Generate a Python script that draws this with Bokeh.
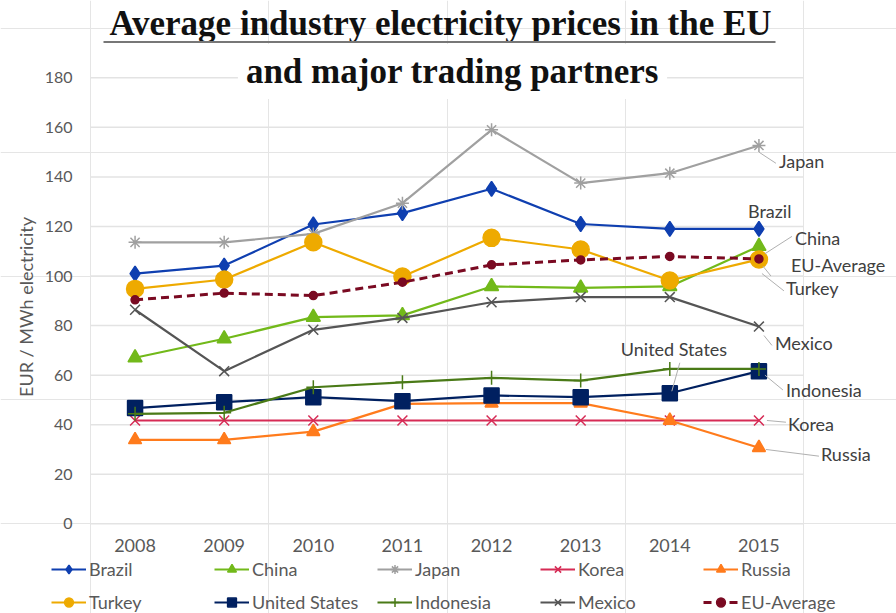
import math
from bokeh.plotting import figure
from bokeh.models import (Range1d, FixedTicker, Legend, LegendItem, Label,
                          LinearAxis, BoxAnnotation)
from bokeh.embed import file_html
from bokeh.resources import INLINE

years = ["2008", "2009", "2010", "2011", "2012", "2013", "2014", "2015"]

brazil = [101.0, 104.2, 120.8, 125.4, 135.2, 121.0, 119.0, 119.0]
china = [67.0, 74.7, 83.4, 84.1, 95.8, 95.2, 95.8, 112.0]
japan = [113.6, 113.6, 117.0, 129.4, 159.0, 137.5, 141.5, 152.7]
korea = [41.7, 41.7, 41.7, 41.7, 41.7, 41.7, 41.7, 41.7]
russia = [33.9, 33.9, 37.2, 48.4, 48.7, 48.7, 41.7, 30.7]
turkey = [94.8, 98.6, 113.6, 99.8, 115.4, 110.7, 98.2, 106.7]
united_states = [46.7, 49.1, 51.1, 49.5, 51.8, 51.1, 52.7, 61.6]
indonesia = [44.4, 44.8, 55.1, 57.1, 58.9, 57.8, 62.5, 62.5]
mexico = [86.4, 61.6, 78.3, 83.1, 89.4, 91.5, 91.5, 79.6]
eu_average = [90.4, 93.1, 92.1, 97.5, 104.5, 106.5, 107.9, 106.9]

y_ticks = [0, 20, 40, 60, 80, 100, 120, 140, 160, 180]

title_line1 = "Average industry electricity prices in the EU"
title_line2 = "and major trading partners"
y_label = "EUR / MWh electricity"

FONT = "Lato"
GRAY_TXT = "#595959"

# geometry of the canvas (px)
W, H = 896, 613
PX_X = 713.0 / 8          # px per category
PX_Y = 446.0 / 180        # px per EUR/MWh
X0_PX, Y0_PX = 90.0, 523.3  # where category 0 / value 0 sit

x_range = Range1d(-X0_PX / PX_X, (W - X0_PX) / PX_X)
y_range = Range1d(-(H - Y0_PX) / PX_Y, Y0_PX / PX_Y)

p = figure(width=W, height=H, x_range=x_range, y_range=y_range,
           output_backend="svg", toolbar_location=None, tools="",
           x_axis_location=None, y_axis_location=None,
           min_border=0, min_border_left=0, min_border_right=0,
           min_border_top=0, min_border_bottom=0)
p.outline_line_color = None
p.background_fill_color = "white"
p.border_fill_color = "white"

xpos = [i + 0.5 for i in range(len(years))]

# horizontal gridlines across the category area only
p.segment(x0=[0] * len(y_ticks), x1=[len(years)] * len(y_ticks),
          y0=y_ticks, y1=y_ticks, line_color="#e3e3e3", line_width=1.5)

xaxis = LinearAxis(fixed_location=0, ticker=FixedTicker(ticks=xpos),
                   major_label_overrides={x: y for x, y in zip(xpos, years)})
yaxis = LinearAxis(fixed_location=0, ticker=FixedTicker(ticks=y_ticks),
                   axis_label=y_label)
for ax in (xaxis, yaxis):
    ax.axis_line_color = None
    ax.major_tick_line_color = None
    ax.minor_tick_line_color = None
    ax.major_tick_in = 0
    ax.major_tick_out = 0
    ax.minor_tick_in = 0
    ax.minor_tick_out = 0
    ax.major_label_text_font = FONT
    ax.major_label_text_color = GRAY_TXT
xaxis.major_label_text_font_size = "18px"
yaxis.major_label_text_font_size = "16px"
yaxis.major_label_standoff = 18
xaxis.major_label_standoff = 15
yaxis.axis_label_text_font = FONT
yaxis.axis_label_text_font_style = "normal"
yaxis.axis_label_text_font_size = "18px"
yaxis.axis_label_text_color = GRAY_TXT
yaxis.axis_label_standoff = 5
p.add_layout(xaxis, "below")
p.add_layout(yaxis, "left")

series = [
    ("Brazil", brazil, "#0f3fb0", "diamond", 15, "solid"),
    ("China", china, "#72b91a", "triangle", 14, "solid"),
    ("Japan", japan, "#a0a0a0", "asterisk", 13, "solid"),
    ("Korea", korea, "#d62b55", "x", 14, "solid"),
    ("Russia", russia, "#ff7b1c", "triangle", 13, "solid"),
    ("Turkey", turkey, "#eeaa00", "circle", 17, "solid"),
    ("United States", united_states, "#002060", "square", 15, "solid"),
    ("Indonesia", indonesia, "#4a7a17", "cross", 14, "solid"),
    ("Mexico", mexico, "#555555", "x", 14, "solid"),
    ("EU-Average", eu_average, "#7a0a22", "circle", 8, "dashed"),
]

items = {}
for name, vals, color, marker, size, dash in series:
    dash_val = "8 5" if dash == "dashed" else "solid"
    lw = 3 if dash == "dashed" else 2.2
    r1 = p.line(xpos, vals, line_color=color, line_width=lw, line_dash=dash_val)
    r2 = p.scatter(xpos, vals, marker=marker, size=size, fill_color=color,
                   line_color=color, line_width=1.5)
    items[name] = LegendItem(label=name, renderers=[r1, r2])

# legend is filled column by column: order so that rows read as in the source
names = [s[0] for s in series]
row1, row2 = names[:5], names[5:]
legend_order = [n for pair in zip(row1, row2) for n in pair]

legend = Legend(items=[items[n] for n in legend_order], ncols=5,
                label_text_font=FONT,
                label_text_font_size="18px", label_text_color=GRAY_TXT,
                glyph_width=35, glyph_height=22, label_height=22,
                label_standoff=3, label_width=114, spacing=11, padding=0,
                margin=0, border_line_color=None, background_fill_alpha=0,
                location=(51, 0))
p.add_layout(legend, "center")

# direct labels near the end of series (offsets in px from the point)
def xs(cat_index, dx_px):
    return cat_index + 0.5 + dx_px / PX_X

end_labels = [
    ("Japan", 7, 20, 146.6),
    ("Brazil", 7, -11, 126.4),
    ("China", 7, 36, 115.5),
    ("EU-Average", 7, 32, 104.6),
    ("Turkey", 7, 27, 95.0),
    ("Mexico", 7, 16, 72.8),
    ("United States", 6, -49, 70.7),
    ("Indonesia", 7, 27, 54.2),
    ("Korea", 7, 29, 40.1),
    ("Russia", 7, 62, 28.0),
]
for name, ci, dx, yv in end_labels:
    p.add_layout(Label(x=xs(ci, dx), y=yv, text=name, text_font=FONT,
                       text_font_size="18px", text_color="#404040",
                       text_baseline="middle", text_align="left"))

leaders = [
    (7, 0, 150.0, 7, 17, 145.5),
    (7, 6, 109.0, 7, 33, 116.0),
    (7, 4, 104.0, 7, 12, 100.0),
    (7, 3, 101.0, 7, 25, 94.0),
    (7, 5, 76.0, 7, 13, 72.0),
    (6, 2, 53.5, 6, 10, 65.0),
    (7, 6, 60.0, 7, 24, 54.0),
    (7, 8, 41.7, 7, 27, 41.0),
    (7, 7, 30.0, 7, 60, 27.3),
]
p.segment(x0=[xs(a, b) for a, b, *_ in leaders], y0=[l[2] for l in leaders],
          x1=[xs(l[3], l[4]) for l in leaders], y1=[l[5] for l in leaders],
          line_color="#b0b0b0", line_width=1)

# title block (positions in px from the canvas top)
def yv_from_px(py):
    return (Y0_PX - py) / PX_Y

def xv_from_px(px):
    return (px - X0_PX) / PX_X

p.add_layout(Label(x=xv_from_px(440), y=yv_from_px(23), text=title_line1,
                   text_font="Liberation Serif", text_font_style="bold",
                   text_font_size="35px", text_color="#111111",
                   text_align="center", text_baseline="alphabetic"))
p.add_layout(Label(x=xv_from_px(452), y=yv_from_px(71), text=title_line2,
                   text_font="Liberation Serif", text_font_style="bold",
                   text_font_size="35px", text_color="#111111",
                   text_align="center", text_baseline="alphabetic",
                   background_fill_color="white", padding=8))
p.add_layout(BoxAnnotation(left=xv_from_px(103), right=xv_from_px(775),
                           top=yv_from_px(40.5), bottom=yv_from_px(42.5),
                           fill_color="#777777", fill_alpha=1, line_color=None))

open("out.html", "w").write(file_html(p, INLINE))
